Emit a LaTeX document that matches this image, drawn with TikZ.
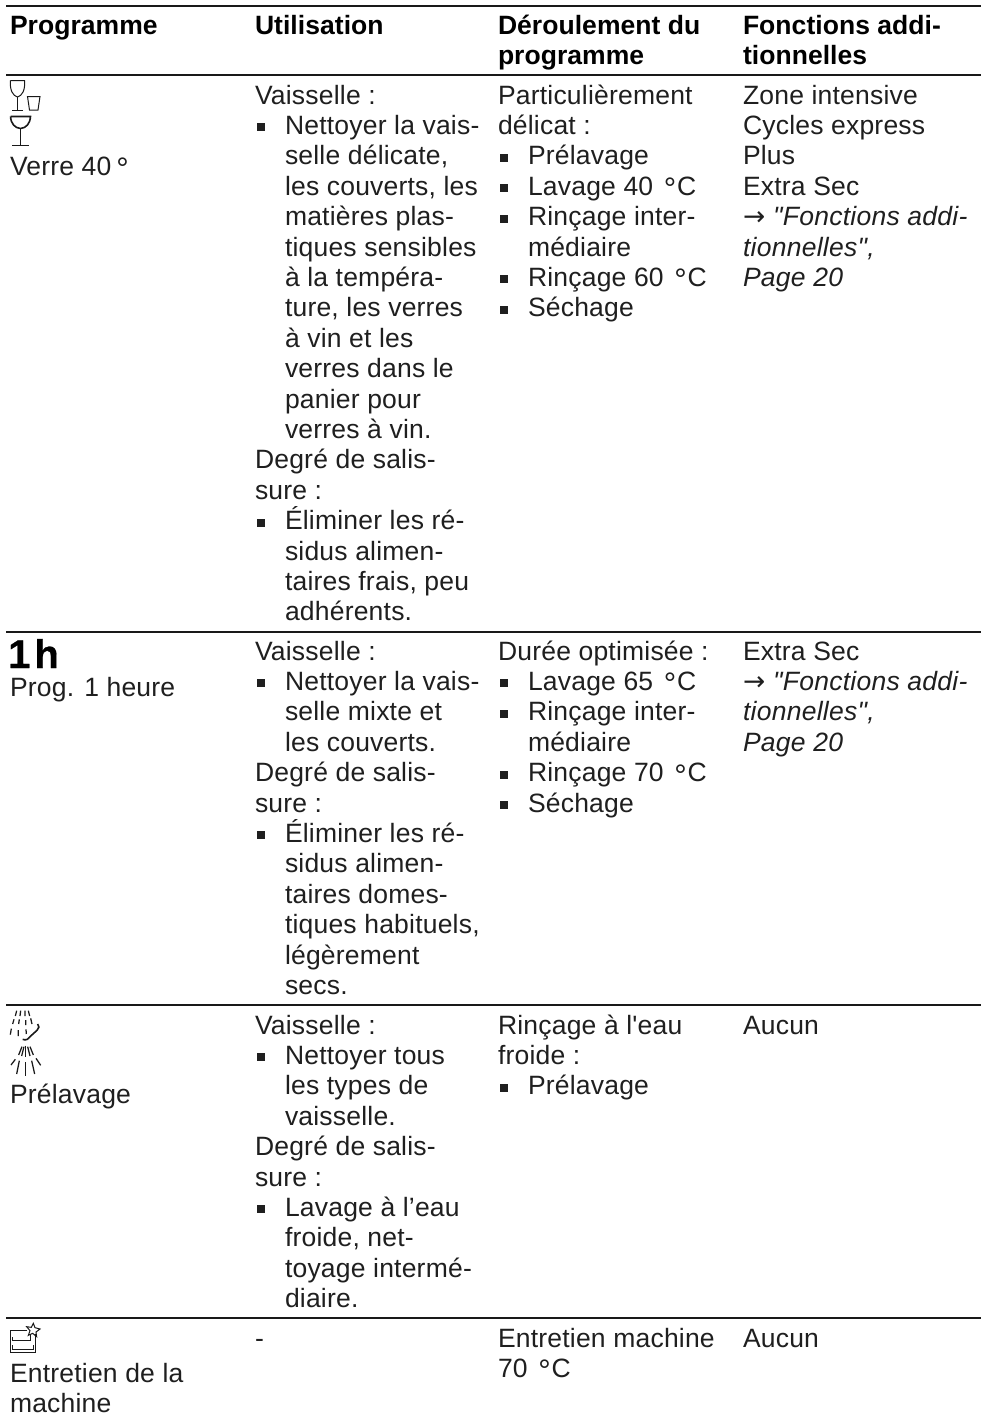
\documentclass[tikz,border=0pt]{standalone}
\usepackage{fontspec}
\setmainfont[Ligatures=TeXOff,LetterSpace=0.8,BoldFeatures={LetterSpace=0.2},ItalicFeatures={LetterSpace=1.0}]{Liberation Sans}
\newfontfamily\arrowf{DejaVu Sans}
\newfontfamily\onehf[UprightFont=* Bold,FakeBold=0.5]{Liberation Sans}
\newcommand{\fsz}{\fontsize{26.5}{30.4}\selectfont}
\newcommand{\fst}{\rule{0pt}{20pt}}
\newcommand{\itm}{\makebox[30pt][l]{\hspace*{2pt}\rule[3pt]{8pt}{8pt}}}
\newcommand{\ind}{\hspace*{30pt}}
\newcommand{\dg}{\kern3pt\raisebox{-4.5pt}{\fontsize{31}{31}\selectfont °}\kern1pt}
\newcommand{\arr}{{\arrowf →}\kern8pt}
\tikzset{
  cell/.style={anchor=north west,inner sep=0pt,outer sep=0pt,align=left,text=black!88,font=\fsz},
  head/.style={anchor=north west,inner sep=0pt,outer sep=0pt,align=left,text=black,font=\fsz\bfseries},
  rowrule/.style={draw=black!90,line width=1.5pt},
  icon/.style={draw=black!90,line width=1pt,fill=none},
  iconb/.style={draw=black!90,line width=1.6pt,fill=none},
  spray/.style={draw=black!90,line width=1.25pt}
}
\begin{document}
\begin{tikzpicture}[x=1pt,y=-1pt]
\useasboundingbox[fill=white] (0,0) rectangle (986,1416);
% rules
\foreach \yy in {6,75,632,1005,1318}{\draw[rowrule] (6,\yy) -- (981,\yy);}
% header (y = baseline - 20)
\node[head] (h1) at (10,14) {\fst Programme};
\node[head] (h2) at (255,14) {\fst Utilisation};
\node[head] (h3) at (498,14) {\fst Déroulement du\\programme};
\node[head] (h4) at (743,14) {\fst Fonctions addi-\\tionnelles};
% row 1
\draw[icon] (10.5,80.5) -- (24.5,80.5) .. controls (25.5,90) and (22,96) .. (17.5,97) .. controls (13,96) and (9.5,90) .. (10.5,80.5);
\draw[icon] (17.5,97) -- (17.5,110) (12,110) -- (23,110);
\draw[icon] (27.5,96.5) -- (40,96.5) -- (38,110) -- (29.5,110) -- cycle;
\draw[iconb] (10.5,116.5) -- (30.5,116.5) .. controls (30,124) and (26,128) .. (20.5,128.5) .. controls (15,128) and (11,124) .. (10.5,116.5);
\draw[iconb] (20.5,128.5) -- (20.5,145) (12,145.5) -- (29,145.5);
\node[cell] (c11) at (10,155) {\fst Verre 40\kern2pt\dg};
\node[cell] (c12) at (255,84) {\fst Vaisselle :\\
\itm Nettoyer la vais-\\\ind selle délicate,\\\ind les couverts, les\\\ind matières plas-\\\ind tiques sensibles\\\ind à la tempéra-\\\ind ture, les verres\\\ind à vin et les\\\ind verres dans le\\\ind panier pour\\\ind verres à vin.\\
Degré de salis-\\sure :\\
\itm Éliminer les ré-\\\ind sidus alimen-\\\ind taires frais, peu\\\ind adhérents.};
\node[cell] (c13) at (498,84) {\fst Particulièrement\\délicat :\\
\itm Prélavage\\\itm Lavage 40 \dg C\\\itm Rinçage inter-\\\ind médiaire\\\itm Rinçage 60 \dg C\\\itm Séchage};
\node[cell] (c14) at (743,84) {\fst Zone intensive\\Cycles express\\Plus\\Extra Sec\\\arr\textit{"Fonctions addi-}\\\textit{tionnelles",}\\\textit{Page 20}};
% row 2
\node[anchor=base west,inner sep=0pt,font=\fontsize{40}{40}\onehf] (ih) at (8,668) {1\kern4pt h};
\node[cell] (c21) at (10,676) {\fst Prog. 1 heure};
\node[cell] (c22) at (255,640) {\fst Vaisselle :\\
\itm Nettoyer la vais-\\\ind selle mixte et\\\ind les couverts.\\
Degré de salis-\\sure :\\
\itm Éliminer les ré-\\\ind sidus alimen-\\\ind taires domes-\\\ind tiques habituels,\\\ind légèrement\\\ind secs.};
\node[cell] (c23) at (498,640) {\fst Durée optimisée :\\
\itm Lavage 65 \dg C\\\itm Rinçage inter-\\\ind médiaire\\\itm Rinçage 70 \dg C\\\itm Séchage};
\node[cell] (c24) at (743,640) {\fst Extra Sec\\\arr\textit{"Fonctions addi-}\\\textit{tionnelles",}\\\textit{Page 20}};
% row 3 icons
\begin{scope}[x=0.3333pt,y=-0.3333pt,yshift=-1000pt]
\draw[spray] (50,32)--(46,48) (42,58)--(38,72) (34,86)--(31,104);
\draw[spray] (62,32)--(60,48) (58,58)--(56,72) (55,90)--(55,108);
\draw[spray] (75,32)--(75,48) (77,60)--(77,75) (78,88)--(79,102);
\draw[spray] (85,32)--(89,48) (92,55)--(96,72);
\draw[draw=black!90,line width=1.6pt] (68,118) .. controls (78,122) and (84,118) .. (90,110) -- (112,90) .. controls (118,84) and (118,78) .. (113,72);
\draw[spray] (66,140)--(56,165) (46,178)--(33,195);
\draw[spray] (72,140)--(65,168) (58,182)--(50,222);
\draw[spray] (77,137)--(77,172) (77,186)--(77,228);
\draw[spray] (83,140)--(90,168) (95,182)--(104,222);
\draw[spray] (90,140)--(100,165) (108,175)--(122,196);
\end{scope}
\node[cell] (c31) at (10,1083) {\fst Prélavage};
\node[cell] (c32) at (255,1014) {\fst Vaisselle :\\
\itm Nettoyer tous\\\ind les types de\\\ind vaisselle.\\
Degré de salis-\\sure :\\
\itm Lavage à l’eau\\\ind froide, net-\\\ind toyage intermé-\\\ind diaire.};
\node[cell] (c33) at (498,1014) {\fst Rinçage à l'eau\\froide :\\\itm Prélavage};
\node[cell] (c34) at (743,1014) {\fst Aucun};
% row 4 icon
\begin{scope}[x=0.3333pt,y=-0.3333pt,yshift=-1310pt]
\draw[draw=black!90,line width=1pt] (82,60) -- (31,60) -- (31,128) -- (107,128) -- (107,72);
\draw[draw=black!90,line width=1pt] (37,82) -- (37,92) -- (92,92) -- (92,72);
\draw[draw=black!90,line width=1pt] (37,106) -- (37,118) -- (100,118) -- (100,106);
\draw[draw=black!90,line width=1pt] (100,40) -- (105,53) -- (120,57) -- (108,66) -- (110,80) -- (98,70) -- (85,76) -- (90,62) -- (80,50) -- (94,52) -- cycle;
\end{scope}
\node[cell] (c41) at (10,1362) {\fst Entretien de la\\machine};
\node[cell] (c42) at (255,1327) {\fst -};
\node[cell] (c43) at (498,1327) {\fst Entretien machine\\70 \dg C};
\node[cell] (c44) at (743,1327) {\fst Aucun};
\end{tikzpicture}
\end{document}
